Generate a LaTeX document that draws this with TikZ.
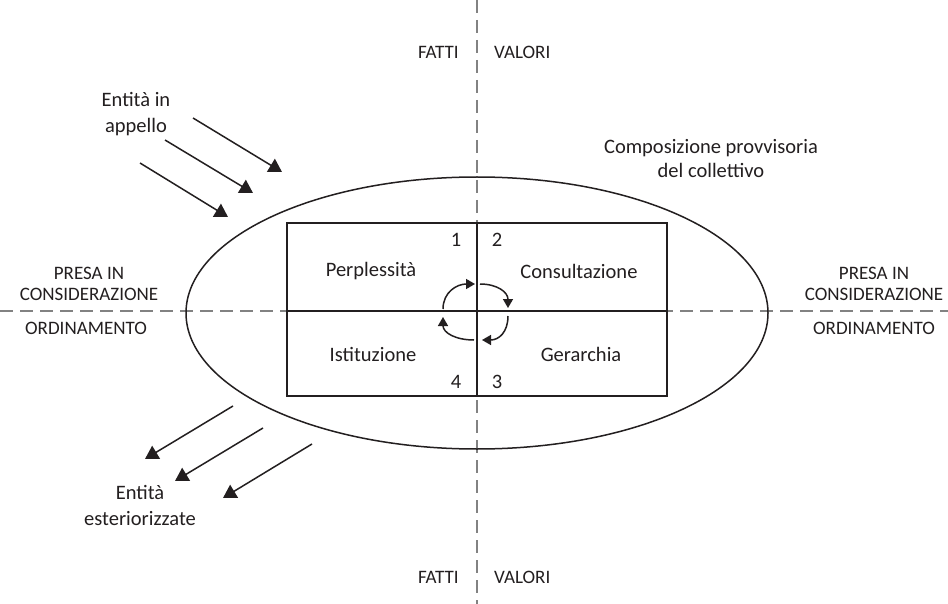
\documentclass[tikz,border=0pt]{standalone}
\usepackage{fontspec}
\setmainfont{Carlito}
\usetikzlibrary{arrows.meta}
\definecolor{ink}{RGB}{35,31,32}
\definecolor{dashgray}{RGB}{130,130,130}
\begin{document}
\begin{tikzpicture}[x=1pt,y=-1pt,
  lbl/.style={text=ink,font=\fontsize{19}{24}\selectfont,inner sep=0pt,align=center},
  mix/.style={lbl,font=\fontsize{20.5}{24}\selectfont},
  axis/.style={draw=dashgray,line width=1.5pt,dash pattern=on 13pt off 7pt},
  solid line/.style={draw=ink,line width=1.5pt},
  bigarrow/.style={draw=ink,line width=1.5pt,-{Triangle[length=13pt,width=15pt]}},
  cyc/.style={draw=ink,line width=1.5pt,-{Triangle[length=9pt,width=10pt]}}]
\useasboundingbox (0,0) rectangle (948,604);
\fill[white] (0,0) rectangle (948,604);
% axes
\coordinate (vt) at (477,0); \coordinate (vb) at (477,604);
\coordinate (hl) at (0,311); \coordinate (hr) at (948,311);
\path[axis] (vt) -- (vb);
\path[axis] (hl) -- (hr);
% ellipse
\coordinate (c) at (477,313);
\path[solid line] (c) ellipse [x radius=291, y radius=136];
% rectangle
\coordinate (r1) at (287,223); \coordinate (r2) at (667,396);
\path[solid line] (r1) rectangle (r2);
\coordinate (rt) at (477,223); \coordinate (rb) at (477,396);
\coordinate (rl) at (287,311); \coordinate (rr) at (667,311);
\path[solid line] (rt) -- (rb);
\path[solid line] (rl) -- (rr);
% quadrant labels
\node[mix] (perp) at (371,271) {Perplessità};
\node[mix] (cons) at (579,271) {Consultazione};
\node[mix] (isti) at (373,354) {Istituzione};
\node[mix] (gera) at (581,354) {Gerarchia};
\node[mix] (n1) at (456,240) {1};
\node[mix] (n2) at (497,240) {2};
\node[mix] (n4) at (456,382) {4};
\node[mix] (n3) at (497,382) {3};
% cycle arrows
\coordinate (a1) at (443,309); \coordinate (a2) at (475,284);
\coordinate (b1) at (480,284); \coordinate (b2) at (508,308);
\coordinate (d1) at (508,316); \coordinate (d2) at (482,340);
\coordinate (e1) at (474,340); \coordinate (e2) at (443,317);
\path[cyc] (a1) .. controls (443,292) and (457,284) .. (a2);
\path[cyc] (b1) .. controls (497,284) and (508,292) .. (b2);
\path[cyc] (d1) .. controls (508,332) and (499,340) .. (d2);
\path[cyc] (e1) .. controls (456,340) and (443,333) .. (e2);
% axis labels
\node[lbl,anchor=east] (f1) at (459,52) {FATTI};
\node[lbl,anchor=west] (v1) at (494,52) {VALORI};
\node[lbl,anchor=east] (f2) at (459,577) {FATTI};
\node[lbl,anchor=west] (v2) at (494,577) {VALORI};
\node[lbl,font=\fontsize{19}{21}\selectfont] (pl) at (89,284) {PRESA IN\\CONSIDERAZIONE};
\node[lbl] (ol) at (86,328) {ORDINAMENTO};
\node[lbl,font=\fontsize{19}{21}\selectfont] (pr) at (874,284) {PRESA IN\\CONSIDERAZIONE};
\node[lbl] (or) at (874,328) {ORDINAMENTO};
% other labels
\node[mix,font=\fontsize{20.5}{26}\selectfont] (app) at (136,114) {Entità in\\appello};
\node[mix,font=\fontsize{20.5}{26}\selectfont] (est) at (140,505) {Entità\\esteriorizzate};
\node[mix] (comp) at (711,159) {Composizione provvisoria\\del collettivo};
% incoming arrows
\coordinate (i1s) at (193,118); \coordinate (i1t) at (282,172);
\coordinate (i2s) at (165,140); \coordinate (i2t) at (253,193);
\coordinate (i3s) at (140,163); \coordinate (i3t) at (228,217);
\path[bigarrow] (i1s) -- (i1t);
\path[bigarrow] (i2s) -- (i2t);
\path[bigarrow] (i3s) -- (i3t);
% outgoing arrows
\coordinate (o1s) at (233,406); \coordinate (o1t) at (145,459);
\coordinate (o2s) at (263,428); \coordinate (o2t) at (175,481);
\coordinate (o3s) at (312,444); \coordinate (o3t) at (223,498);
\path[bigarrow] (o1s) -- (o1t);
\path[bigarrow] (o2s) -- (o2t);
\path[bigarrow] (o3s) -- (o3t);
\end{tikzpicture}
\end{document}
